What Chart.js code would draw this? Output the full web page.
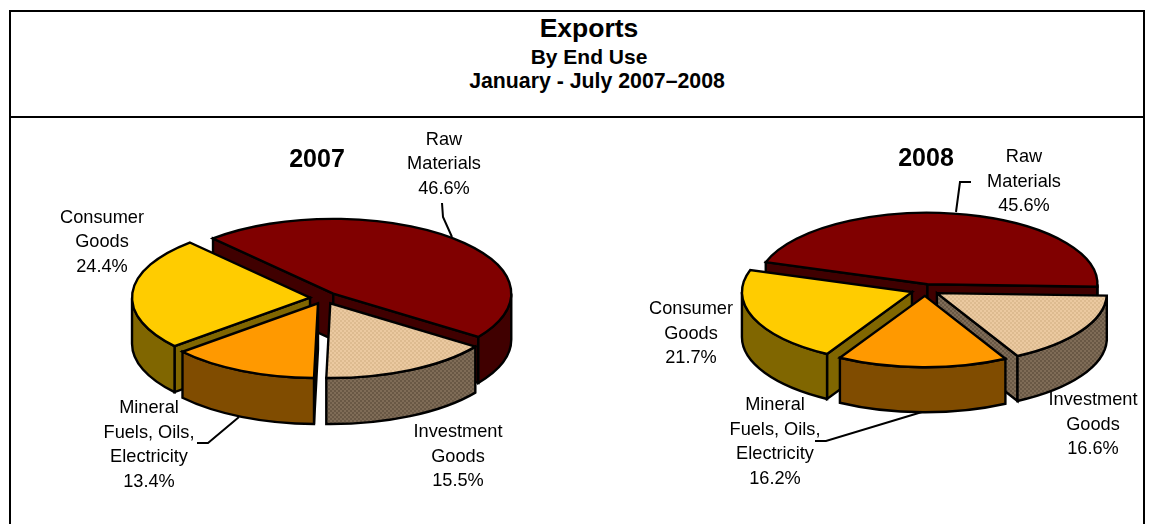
<!DOCTYPE html>
<html>
<head>
<meta charset="utf-8">
<script src="https://cdn.jsdelivr.net/npm/chart.js@4"></script>
<style>
html,body{margin:0;padding:0;background:#fff;width:1154px;height:524px;overflow:hidden}
canvas{position:absolute;left:0;top:0}
#frame{position:absolute;left:9px;top:10px;width:1132px;height:514px;border:2px solid #000;border-bottom:none}
#rule{position:absolute;left:9px;top:116px;width:1136px;height:2px;background:#000}
.h{position:absolute;font-family:"Liberation Sans",Arial,sans-serif;font-weight:bold;color:#000;white-space:nowrap;transform:translate(-50%,-50%)}
</style>
</head>
<body>
<div id="frame"></div><div id="rule"></div>
<div class="h" style="left:589px;top:28px;font-size:26.5px">Exports</div>
<div class="h" style="left:589px;top:57px;font-size:21px">By End Use</div>
<div class="h" style="left:597px;top:81px;font-size:21.3px">January - July 2007–2008</div>
<canvas id="c2007" width="1154" height="524"></canvas>
<canvas id="c2008" width="1154" height="524"></canvas>
<script>
const categories = ['Raw Materials', 'Investment Goods', 'Mineral Fuels, Oils, Electricity', 'Consumer Goods'];
const values2007 = [46.6, 15.5, 13.4, 24.4];
const values2008 = [45.6, 16.6, 16.2, 21.7];
const percentLabels2007 = ['46.6%', '15.5%', '13.4%', '24.4%'];
const percentLabels2008 = ['45.6%', '16.6%', '16.2%', '21.7%'];
const labelLines = [['Raw', 'Materials'], ['Investment', 'Goods'], ['Mineral', 'Fuels, Oils,', 'Electricity'], ['Consumer', 'Goods']];

function checker(a, b) {
  const c = document.createElement('canvas');
  c.width = c.height = 4;
  const x = c.getContext('2d');
  x.fillStyle = a; x.fillRect(0, 0, 4, 4);
  x.fillStyle = b; x.fillRect(0, 0, 2, 2); x.fillRect(2, 2, 2, 2);
  return x.createPattern(c, 'repeat');
}
const topColors = ['#800000', checker('#EBC9A0', '#DDBB90'), '#FF9900', '#FFCC00'];
const wallColors = ['#400000', checker('#7F6C57', '#695845'), '#804C00', '#806600'];
const paintOrder = [0, 3, 1, 2];

const pie3d = {
  id: 'pie3d',
  beforeDatasetDraw(chart, args, o) {
    const ctx = chart.ctx, arcs = chart.getDatasetMeta(0).data;
    const k = o.squash, depth = o.depth;
    ctx.save();
    ctx.lineWidth = 2.4; ctx.strokeStyle = '#000'; ctx.lineJoin = 'miter'; ctx.miterLimit = 3;
    const paint = (fill) => { ctx.fillStyle = fill; ctx.fill(); ctx.stroke(); };
    paintOrder.forEach(i => {
      const arc = arcs[i];
      const {x, y, startAngle: a, endAngle: b, outerRadius: R} = arc.getProps(['x', 'y', 'startAngle', 'endAngle', 'outerRadius'], true);
      const mid = (a + b) / 2, d = arc.options.offset;
      const cx = x + Math.cos(mid) * d, cy = y + Math.sin(mid) * d * k;
      const pt = t => [cx + R * Math.cos(t), cy + R * k * Math.sin(t)];
      const wall = wallColors[i];
      // only the cut faces turned towards the viewer are painted
      [[a, Math.cos(a) < 0], [b, Math.cos(b) > 0]].forEach(([t, visible]) => {
        if (!visible) return;
        const p = pt(t);
        ctx.beginPath();
        ctx.moveTo(cx, cy); ctx.lineTo(p[0], p[1]);
        ctx.lineTo(p[0], p[1] + depth); ctx.lineTo(cx, cy + depth);
        ctx.closePath();
        paint(wall);
      });
      for (let n = -1; n <= 1; n++) {
        const s = Math.max(a, n * 2 * Math.PI), e = Math.min(b, n * 2 * Math.PI + Math.PI);
        if (e <= s) continue;
        ctx.beginPath();
        ctx.ellipse(cx, cy, R, R * k, 0, s, e);
        ctx.ellipse(cx, cy + depth, R, R * k, 0, e, s, true);
        ctx.closePath();
        paint(wall);
      }
      ctx.beginPath();
      ctx.moveTo(cx, cy);
      ctx.ellipse(cx, cy, R, R * k, 0, a, b);
      ctx.closePath();
      paint(arc.options.backgroundColor);
    });
    ctx.restore();
    return false;
  },
  afterDraw(chart, args, o) {
    const ctx = chart.ctx;
    ctx.save();
    ctx.strokeStyle = '#000'; ctx.lineWidth = 2; ctx.lineJoin = 'miter';
    o.leaders.forEach(l => {
      ctx.beginPath();
      l.forEach((p, j) => j ? ctx.lineTo(p[0], p[1]) : ctx.moveTo(p[0], p[1]));
      ctx.stroke();
    });
    ctx.fillStyle = '#000'; ctx.textAlign = 'center'; ctx.textBaseline = 'middle';
    ctx.font = '18.2px "Liberation Sans", Arial, sans-serif';
    o.labelPos.forEach((p, i) => {
      const lines = labelLines[i].concat(o.percents[i]);
      lines.forEach((t, j) => ctx.fillText(t, p[0], p[1] + j * 24.5));
    });
    ctx.font = 'bold 25px "Liberation Sans", Arial, sans-serif';
    ctx.fillText(o.year, o.yearPos[0], o.yearPos[1]);
    ctx.restore();
  }
};

function make(id, values, year, percents, cfg) {
  new Chart(document.getElementById(id), {
    type: 'pie',
    data: { labels: categories, datasets: [{ data: values, backgroundColor: topColors, borderWidth: 0, offset: cfg.offset }] },
    options: {
      responsive: false, animation: false, events: [],
      rotation: cfg.rotation, radius: cfg.radius,
      layout: { padding: { left: Math.max(0, 2 * cfg.cx - 1154), right: Math.max(0, 1154 - 2 * cfg.cx), top: Math.max(0, 2 * cfg.cy - 524), bottom: Math.max(0, 524 - 2 * cfg.cy) } },
      plugins: {
        legend: { display: false }, tooltip: { enabled: false },
        pie3d: { squash: cfg.squash, depth: cfg.depth, leaders: cfg.leaders, labelPos: cfg.labelPos, percents, year, yearPos: cfg.yearPos }
      }
    },
    plugins: [pie3d]
  });
}

make('c2007', values2007, '2007', percentLabels2007, {
  cx: 324, cy: 298, radius: 178, rotation: -42.5, offset: 14, squash: 0.42, depth: 46, yearPos: [317, 160],
  labelPos: [[444, 139.5], [458, 432], [149, 408], [102, 217.5]],
  leaders: [[[442, 203], [443, 217], [452, 237]], [[197, 443], [208, 443], [239, 417]]]
});
make('c2008', values2008, '2008', percentLabels2008, {
  cx: 925, cy: 290, radius: 170, rotation: -72, offset: 14, squash: 0.42, depth: 45, yearPos: [926, 159],
  labelPos: [[1024, 157], [1093, 400], [775, 405], [691, 309]],
  leaders: [[[971, 182], [960, 182], [956, 212]], [[815, 441], [826, 441], [922, 412]]]
});
</script>
</body>
</html>
